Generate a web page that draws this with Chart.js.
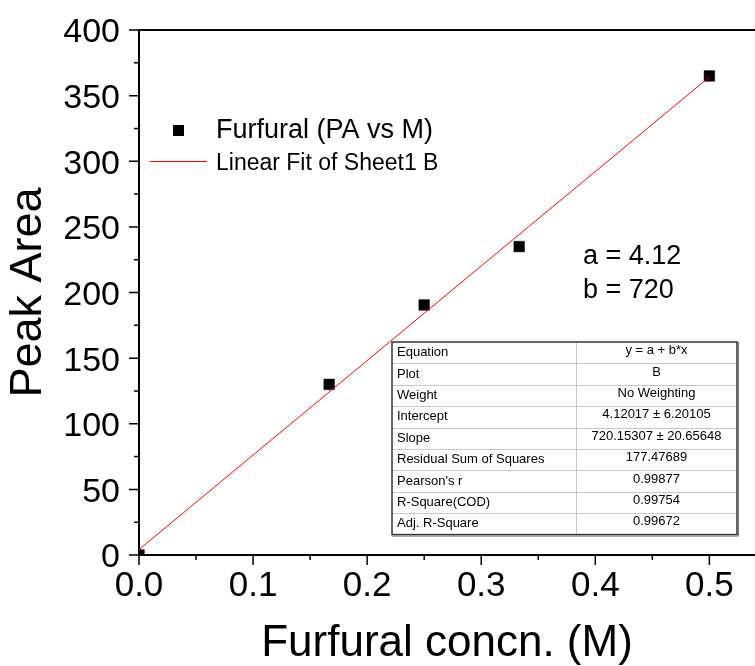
<!DOCTYPE html>
<html><head><meta charset="utf-8">
<script src="https://cdn.jsdelivr.net/npm/chart.js@4/dist/chart.umd.min.js"></script>
<style>html,body{margin:0;padding:0;background:#fff;}canvas{display:block;}</style>
</head><body>
<canvas id="c" width="755" height="666"></canvas>
<script>
const concentrations = [0, 0.1667, 0.25, 0.3333, 0.5];
const peakAreas = [0, 130, 190.5, 235, 365];
const fitIntercept = 4.12017;
const fitSlope = 720.15307;
const fitRange = [0, 0.5];
const xTickValues = [0, 0.1, 0.2, 0.3, 0.4, 0.5];
const xMinorTicks = [0.05, 0.15, 0.25, 0.35, 0.45];
const yTickValues = [0, 50, 100, 150, 200, 250, 300, 350, 400];
const yMinorTicks = [25, 75, 125, 175, 225, 275, 325, 375];
const seriesNames = ['Furfural (PA vs M)', 'Linear Fit of Sheet1 B'];
const paramLabels = ['a = 4.12', 'b = 720'];
const tableLabels = ['Equation', 'Plot', 'Weight', 'Intercept', 'Slope', 'Residual Sum of Squares', "Pearson's r", 'R-Square(COD)', 'Adj. R-Square'];
const tableValues = ['y = a + b*x', 'B', 'No Weighting', '4.12017 \u00b1 6.20105', '720.15307 \u00b1 20.65648', '177.47689', '0.99877', '0.99754', '0.99672'];

const FONT = '"Liberation Sans", Arial, sans-serif';

const decor = {
  id: 'decor',
  afterDraw(chart) {
    const ctx = chart.ctx;
    const xs = chart.scales.x, ys = chart.scales.y;
    const a = chart.chartArea;
    ctx.save();
    ctx.strokeStyle = '#000';
    ctx.lineWidth = 2;
    ctx.beginPath(); ctx.moveTo(a.left - 1, a.top); ctx.lineTo(a.right, a.top); ctx.stroke();
    ctx.lineWidth = 1.5;
    ctx.beginPath();
    yTickValues.forEach(v => { const y = ys.getPixelForValue(v); ctx.moveTo(a.left - 10, y); ctx.lineTo(a.left, y); });
    yMinorTicks.forEach(v => { const y = ys.getPixelForValue(v); ctx.moveTo(a.left - 5, y); ctx.lineTo(a.left, y); });
    xTickValues.forEach(v => { const x = xs.getPixelForValue(v); ctx.moveTo(x, a.bottom); ctx.lineTo(x, a.bottom + 10); });
    xMinorTicks.forEach(v => { const x = xs.getPixelForValue(v); ctx.moveTo(x, a.bottom); ctx.lineTo(x, a.bottom + 5); });
    ctx.stroke();

    const ds0 = chart.data.datasets[0], ds1 = chart.data.datasets[1];
    ctx.fillStyle = ds0.backgroundColor;
    ctx.fillRect(173, 125, 11, 11);
    ctx.strokeStyle = ds1.borderColor; ctx.lineWidth = 1;
    ctx.beginPath(); ctx.moveTo(150, 161.5); ctx.lineTo(207, 161.5); ctx.stroke();
    ctx.fillStyle = '#000';
    ctx.textAlign = 'left'; ctx.textBaseline = 'alphabetic';
    ctx.font = '27px ' + FONT;
    ctx.fillText(ds0.label, 216, 138);
    ctx.font = '23px ' + FONT;
    ctx.fillText(ds1.label, 216, 170);

    ctx.font = '27px ' + FONT;
    ctx.fillText(paramLabels[0], 583, 264);
    ctx.fillText(paramLabels[1], 583, 298);

    const tl = 392, tr = 737, tt = 342, rh = 21.4, cx = 576;
    const tb = tt + rh * tableLabels.length;
    ctx.fillStyle = '#fff';
    ctx.fillRect(tl, tt, tr - tl, tb - tt);
    ctx.strokeStyle = '#c8c8c8'; ctx.lineWidth = 1;
    ctx.beginPath();
    for (let i = 1; i < tableLabels.length; i++) {
      const y = Math.round(tt + rh * i) + 0.5;
      ctx.moveTo(tl, y); ctx.lineTo(tr, y);
    }
    ctx.moveTo(cx + 0.5, tt); ctx.lineTo(cx + 0.5, tb);
    ctx.stroke();
    ctx.strokeStyle = '#333'; ctx.lineWidth = 1.5;
    ctx.strokeRect(tl, tt, tr - tl, tb - tt);
    ctx.strokeStyle = '#777'; ctx.lineWidth = 1;
    ctx.beginPath(); ctx.moveTo(tl, tb + 1.5); ctx.lineTo(tr + 1.5, tb + 1.5); ctx.lineTo(tr + 1.5, tt); ctx.stroke();
    ctx.fillStyle = '#000';
    ctx.font = '13px ' + FONT;
    ctx.textBaseline = 'middle';
    tableLabels.forEach((t, i) => {
      const y = tt + rh * i + rh / 2;
      ctx.textAlign = 'left';
      ctx.fillText(t, tl + 5, y);
      ctx.textAlign = 'center';
      ctx.fillText(tableValues[i], (cx + tr) / 2, y - 2);
    });
    ctx.restore();
  }
};

new Chart(document.getElementById('c'), {
  type: 'scatter',
  data: {
    datasets: [
      {
        label: seriesNames[0],
        data: concentrations.map((x, i) => ({ x, y: peakAreas[i] })),
        pointStyle: 'rect',
        pointRadius: 7.5,
        pointBorderWidth: 0.5,
        backgroundColor: '#000',
        borderColor: '#000',
        clip: 0,
        order: 1
      },
      {
        label: seriesNames[1],
        type: 'line',
        data: fitRange.map(x => ({ x, y: fitIntercept + fitSlope * x })),
        borderColor: '#ff0000',
        borderWidth: 1,
        pointRadius: 0,
        fill: false,
        order: 0
      }
    ]
  },
  options: {
    responsive: false,
    animation: false,
    devicePixelRatio: 1,
    layout: { autoPadding: false, padding: { top: 30, right: 0, left: 0, bottom: 0 } },
    plugins: { legend: { display: false }, tooltip: { enabled: false } },
    scales: {
      x: {
        type: 'linear', min: 0, max: 0.54,
        grid: { display: false, drawTicks: false },
        border: { display: true, color: '#000', width: 2 },
        afterBuildTicks: s => { s.ticks = xTickValues.map(v => ({ value: v })); },
        afterFit: s => { s.height = 111; s.paddingLeft = 0; s.paddingRight = 0; s.paddingTop = 0; s.paddingBottom = 0; },
        ticks: {
          color: '#000', padding: 10, maxRotation: 0, autoSkip: false,
          font: { family: FONT, size: 35 },
          callback: v => Number(v).toFixed(1)
        },
        title: { display: true, text: 'Furfural concn. (M)', color: '#000', font: { family: FONT, size: 44, lineHeight: 1.0 }, padding: 0 }
      },
      y: {
        type: 'linear', min: 0, max: 400,
        grid: { display: false, drawTicks: false },
        border: { display: true, color: '#000', width: 2 },
        afterBuildTicks: s => { s.ticks = yTickValues.map(v => ({ value: v })); },
        afterFit: s => { s.width = 139; s.paddingLeft = 0; s.paddingRight = 0; s.paddingTop = 0; s.paddingBottom = 0; },
        ticks: {
          color: '#000', padding: 19, autoSkip: false, labelOffset: 3,
          font: { family: FONT, size: 34 }
        },
        title: { display: true, text: 'Peak Area', color: '#000', font: { family: FONT, size: 45, lineHeight: 1.2 }, padding: { top: 2, bottom: 0 } }
      }
    }
  },
  plugins: [decor]
});
</script>
</body></html>
